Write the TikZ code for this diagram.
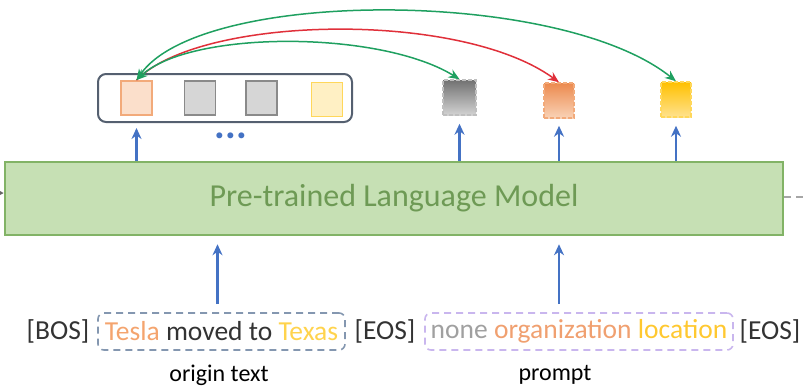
\documentclass[tikz,border=0pt]{standalone}
\usepackage{fontspec}
\setmainfont{Carlito}
\usetikzlibrary{arrows.meta}

\definecolor{lmfill}{HTML}{C6E0B4}
\definecolor{lmdraw}{HTML}{82B366}
\definecolor{lmtext}{HTML}{6E9A55}
\definecolor{upblue}{HTML}{4472C4}
\definecolor{grpdraw}{HTML}{556070}
\definecolor{orfill}{HTML}{FBDFCB}
\definecolor{ordraw}{HTML}{F2AA7A}
\definecolor{gyfill}{HTML}{D6D6D6}
\definecolor{gydraw}{HTML}{8A8A8A}
\definecolor{ylfill}{HTML}{FFF0C4}
\definecolor{yldraw}{HTML}{FFD75A}
\definecolor{arrgreen}{HTML}{1FA060}
\definecolor{arrred}{HTML}{E0303A}
\definecolor{tboxdraw}{HTML}{8497B0}
\definecolor{pboxdraw}{HTML}{C9B6EE}
\definecolor{teslacol}{HTML}{F4A46E}
\definecolor{texascol}{HTML}{FFD34D}
\definecolor{nonecol}{HTML}{A0A0A0}
\definecolor{orgcol}{HTML}{F0A070}
\definecolor{loccol}{HTML}{FFC830}
\definecolor{tokcol}{HTML}{333333}
\definecolor{gradgytop}{HTML}{727272}
\definecolor{gradgybot}{HTML}{D2D2D2}
\definecolor{gradortop}{HTML}{EC8A4E}
\definecolor{gradorbot}{HTML}{F9D2B6}
\definecolor{gradyltop}{HTML}{FFC000}
\definecolor{gradylbot}{HTML}{FFE28E}

\tikzset{
  lmbox/.style={draw=lmdraw, fill=lmfill, line width=2.5pt, minimum width=778pt,
    minimum height=73pt, inner sep=0pt, text=lmtext, font=\fontsize{32}{36}\selectfont},
  sqbox/.style={line width=1.8pt, minimum width=31pt, minimum height=34pt, inner sep=0pt},
  gradbox/.style={line width=1.5pt, minimum width=30pt, minimum height=35pt, inner sep=0pt,
    dashed, dash pattern=on 4pt off 2pt},
  grpbox/.style={draw=grpdraw, line width=2pt, rounded corners=8pt,
    minimum width=254pt, minimum height=48pt, inner sep=0pt},
  uparrow/.style={draw=upblue, line width=2.2pt, -{Stealth[length=11pt,width=10pt]}},
  link/.style={line width=1.5pt},
  tok/.style={text=tokcol, font=\fontsize{27.5}{30}\selectfont, inner sep=0pt},
  spanbox/.style={line width=1.6pt, dashed, dash pattern=on 7pt off 5pt,
    rounded corners=6pt, minimum height=37pt, inner sep=0pt,
    font=\fontsize{27.5}{30}\selectfont},
  caption/.style={text=black, font=\fontsize{24}{27}\selectfont, inner sep=0pt}
}

\begin{document}
\begin{tikzpicture}[x=1pt, y=-1pt]
\useasboundingbox (0,0) rectangle (808,388);

% language model block
\node[lmbox] (lm) at (394,198.5) {Pre-trained Language Model};

% side connections of the model
\coordinate (inl) at (-20,193);
\coordinate (outr) at (815,197);
\draw[gray!80!black, line width=1.5pt, -{Stealth[length=9pt,width=9pt]}] (inl) -- (inl -| lm.west);
\draw[gray!70, line width=1.5pt, dashed, dash pattern=on 7pt off 5pt] (lm.east |- outr) -- (outr);

% grouped output representations
\node[grpbox] (grp) at (225,98) {};
\node[sqbox, draw=ordraw, fill=orfill] (o1) at (136.5,98) {};
\node[sqbox, draw=gydraw, fill=gyfill] (g1) at (200,98) {};
\node[sqbox, draw=gydraw, fill=gyfill] (g2) at (261.5,98) {};
\node[sqbox, draw=yldraw, fill=ylfill] (y1) at (327,99.5) {};
\node[text=upblue, font=\fontsize{40}{40}\selectfont\bfseries, inner sep=0pt] (dots) at (231,136) {...};

% prompt output representations
\node[gradbox, minimum width=33pt, top color=gradgytop, bottom color=gradgybot,
  draw=gray!50] (g3) at (459.5,97.5) {};
\node[gradbox, top color=gradortop, bottom color=gradorbot, draw=ordraw] (o2) at (559,100.5) {};
\node[gradbox, top color=gradyltop, bottom color=gradylbot, draw=yldraw] (y2) at (676,99.5) {};

% upward arrows from the model
\draw[uparrow, shorten >=5pt] (lm.north -| o1) -- (grp.south -| o1);
\draw[uparrow, shorten >=8pt] (lm.north -| g3) -- (g3.south);
\draw[uparrow, shorten >=7pt] (lm.north -| o2) -- (o2.south);
\draw[uparrow, shorten >=8pt] (lm.north -| y2) -- (y2.south);

% links between the entity token and the prompt tokens
\draw[link, draw=arrred, -{Stealth[length=11pt,width=9pt]}]
  (o1.north) .. controls (200,15) and (460,10) .. (o2.north);
\draw[link, draw=arrgreen, {Stealth[length=11pt,width=9pt]}-{Stealth[length=11pt,width=9pt]}]
  (o1.north) .. controls (190,30) and (380,30) .. (g3.north);
\draw[link, draw=arrgreen, {Stealth[length=11pt,width=9pt]}-{Stealth[length=11pt,width=9pt]}]
  (o1.north) .. controls (200,-12) and (560,-12) .. (y2.north);

% input sequence
\node[tok] (bos) at (58,331) {[BOS]};
\node[spanbox, draw=tboxdraw, minimum width=247pt] (tbox) at (221.5,331.5)
  {\textcolor{teslacol}{Tesla} \textcolor{tokcol}{moved to} \textcolor{texascol}{Texas}};
\node[tok] (eos1) at (385,331) {[EOS]};
\node[spanbox, draw=pboxdraw, minimum width=308pt] (pbox) at (579,331.5)
  {\textcolor{nonecol}{none} \textcolor{orgcol}{organization} \textcolor{loccol}{location}};
\node[tok] (eos2) at (770,331) {[EOS]};

\node[caption] (cap1) at (219,375) {origin text};
\node[caption] (cap2) at (555,375) {prompt};

% upward arrows into the model
\coordinate (tin) at ([xshift=-4pt]tbox.north);
\draw[uparrow, shorten <=8pt, shorten >=8pt] (tin) -- (lm.south -| tin);
\draw[uparrow, shorten <=8pt, shorten >=8pt] (pbox.north -| o2) -- (lm.south -| o2);
\end{tikzpicture}
\end{document}
